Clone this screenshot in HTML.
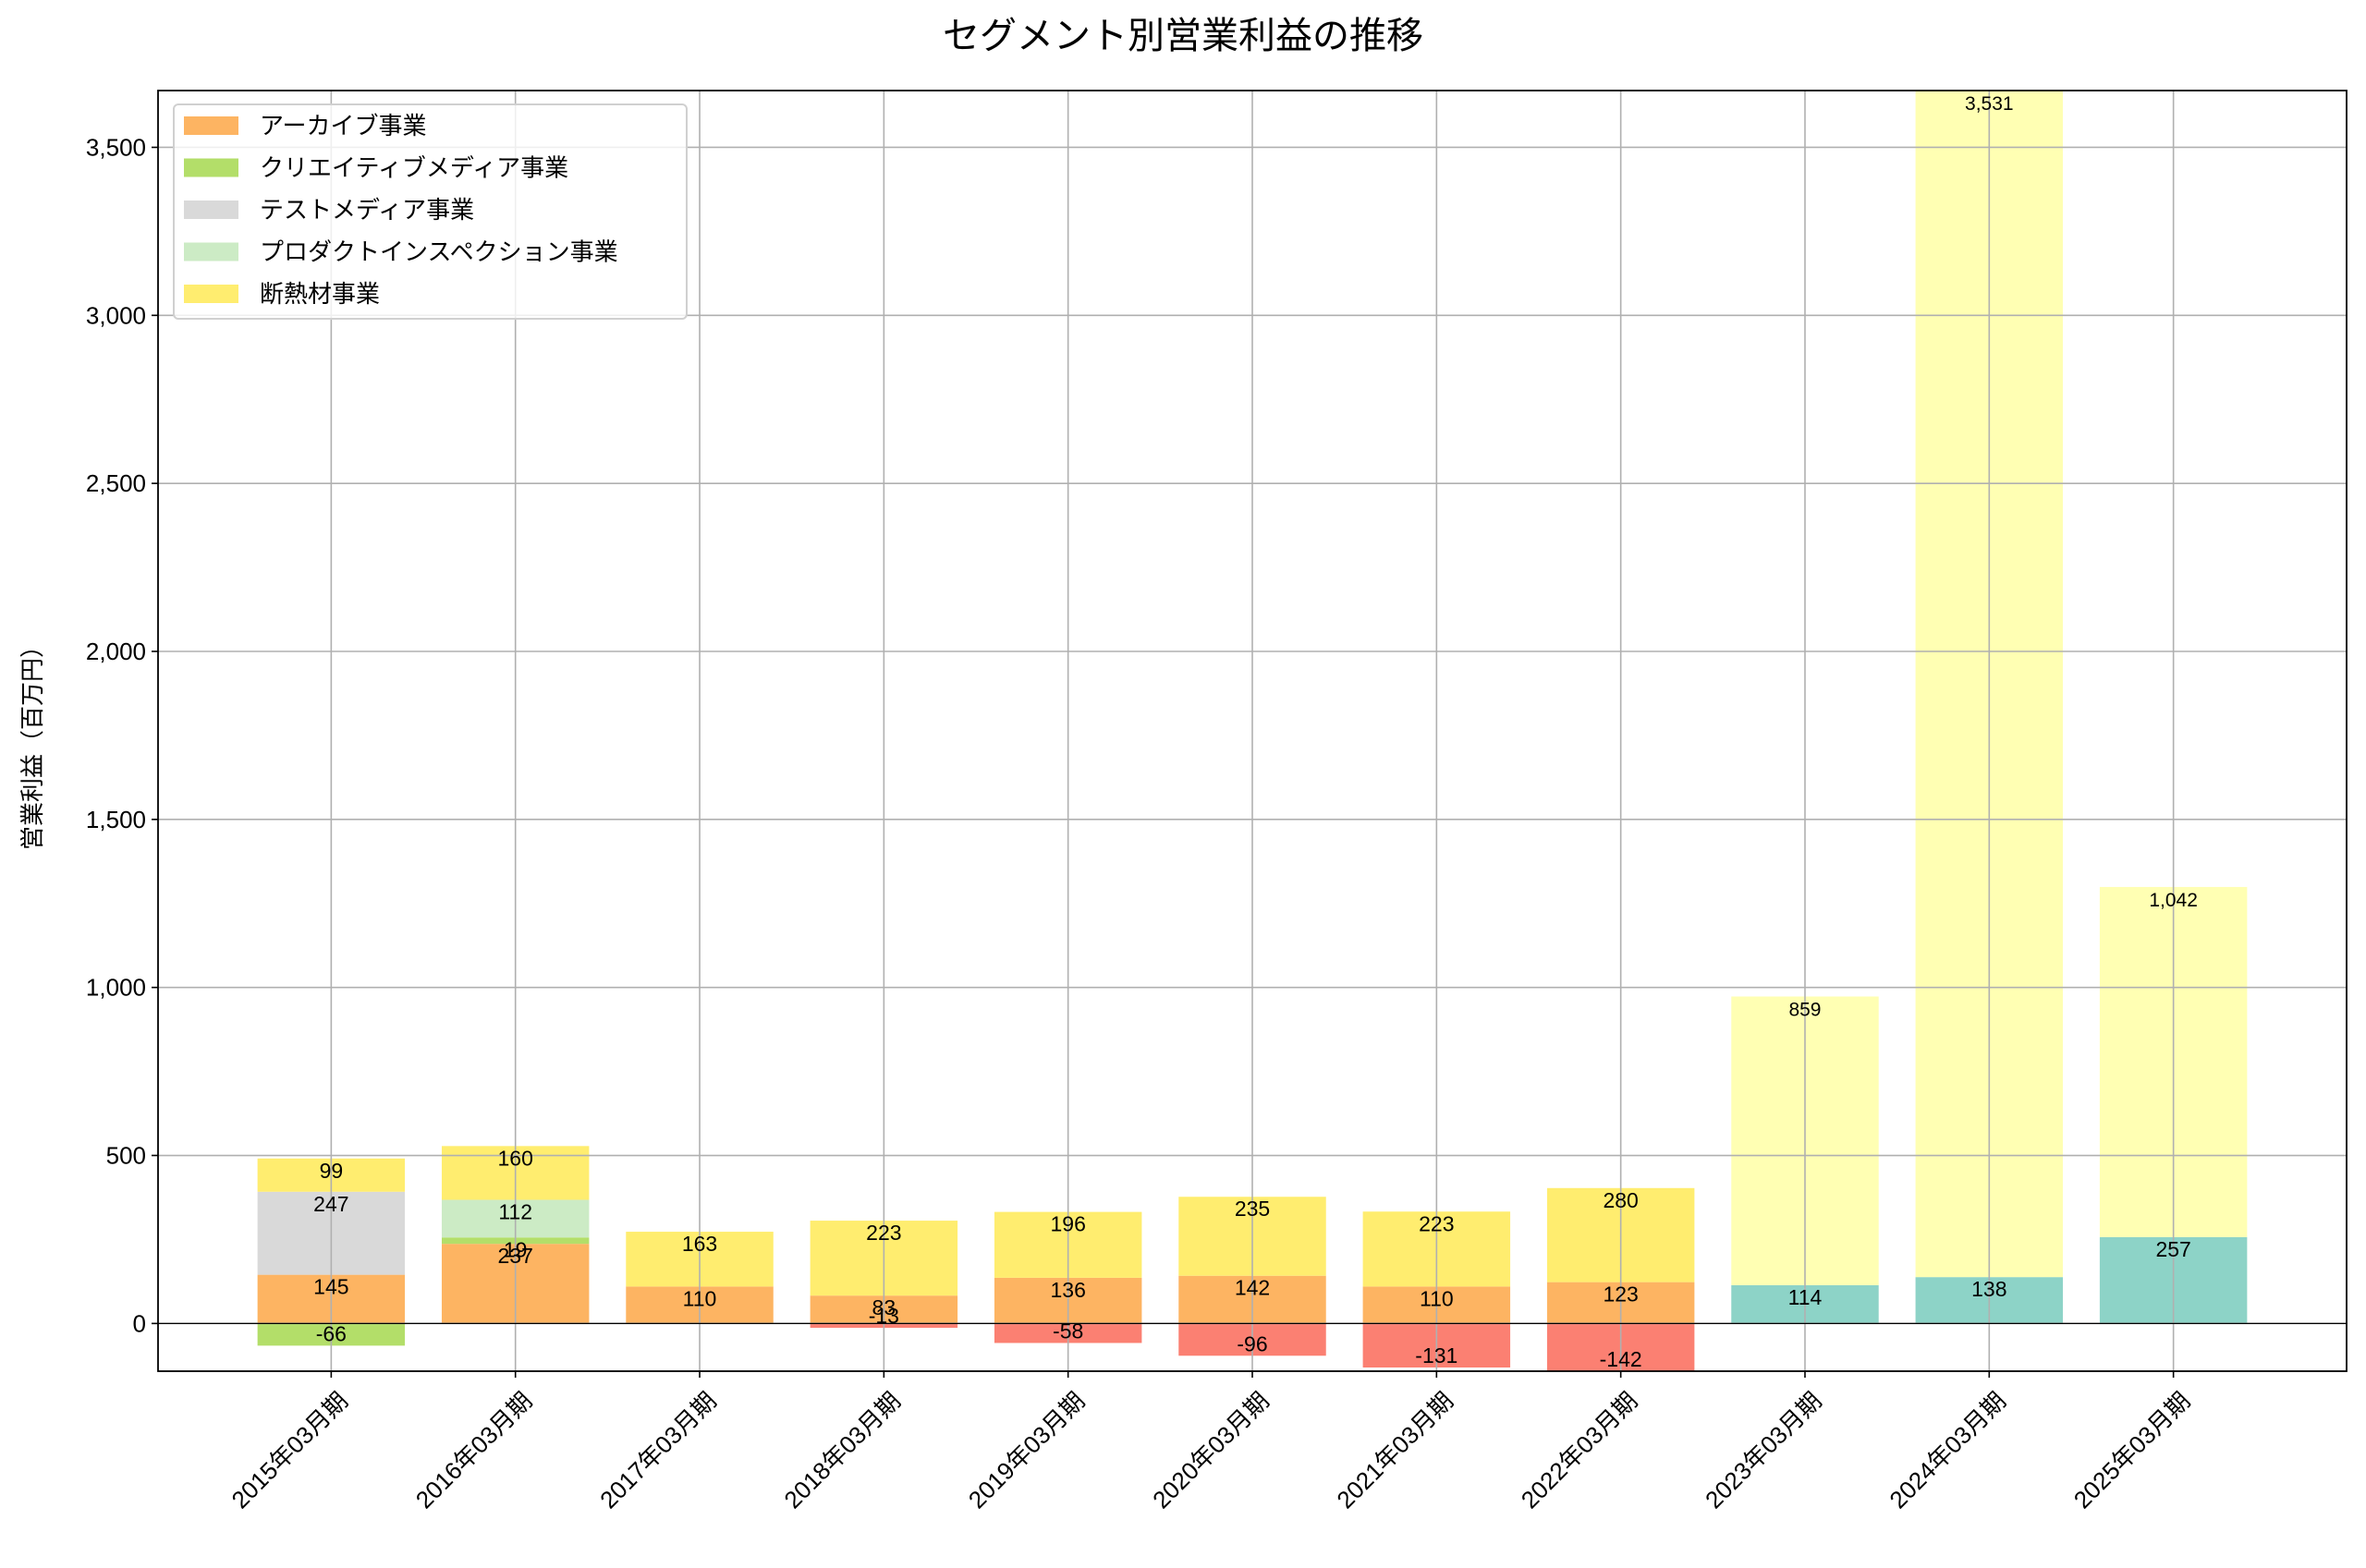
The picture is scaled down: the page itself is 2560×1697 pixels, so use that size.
<!DOCTYPE html>
<html><head><meta charset="utf-8">
<style>
html,body{margin:0;padding:0;background:#fff;}
svg{display:block;font-family:"Liberation Sans","Noto Sans CJK JP",sans-serif;}
</style></head>
<body>
<svg id="chart" width="2560" height="1697" viewBox="0 0 2560 1697" xmlns="http://www.w3.org/2000/svg">
<rect width="2560" height="1697" fill="#fff"/>
<text x="1280" y="52" font-size="40" text-anchor="middle" fill="#000">セグメント別営業利益の推移</text>
<text transform="translate(44,803) rotate(-90)" font-size="26" text-anchor="middle">営業利益（百万円）</text>
<g id="bars"></g>
<g id="grid"></g>
<g id="labels"></g>
<g id="axes"></g>
<g id="legend"></g>
</svg>
<script>
const categories = ["2015年03月期","2016年03月期","2017年03月期","2018年03月期","2019年03月期","2020年03月期","2021年03月期","2022年03月期","2023年03月期","2024年03月期","2025年03月期"];
const archive   = [145,237,110,83,136,142,110,123,0,0,0];
const creative  = [-66,19,0,0,0,0,0,0,0,0,0];
const testMedia = [247,0,0,0,0,0,0,0,0,0,0];
const inspection= [0,112,0,0,0,0,0,0,0,0,0];
const insulation= [99,160,163,223,196,235,223,280,0,0,0];
const negOther  = [0,0,0,-13,-58,-96,-131,-142,0,0,0];
const teal      = [0,0,0,0,0,0,0,0,114,138,257];
const lightYel  = [0,0,0,0,0,0,0,0,859,3531,1042];
const yTicks = [0,500,1000,1500,2000,2500,3000,3500];
const yTickLabels = ["0","500","1,000","1,500","2,000","2,500","3,000","3,500"];

const series = [
  {name:"archive", vals:archive, color:"#fdb462", legend:"アーカイブ事業"},
  {name:"creative-media", vals:creative, color:"#b3de69", legend:"クリエイティブメディア事業"},
  {name:"test-media", vals:testMedia, color:"#d9d9d9", legend:"テストメディア事業"},
  {name:"product-inspection", vals:inspection, color:"#ccebc5", legend:"プロダクトインスペクション事業"},
  {name:"insulation", vals:insulation, color:"#ffed6f", legend:"断熱材事業"},
  {name:"other-negative", vals:negOther, color:"#fb8072"},
  {name:"other-segment", vals:teal, color:"#8dd3c7"},
  {name:"other-large", vals:lightYel, color:"#ffffb3"}
];

const L=171,R=2539,T=98,B=1484;
const yMin=-142,yMax=3669;
const xMin=-0.94,xMax=categories.length-1+0.94;
const y=v=>B-(v-yMin)/(yMax-yMin)*(B-T);
const x=i=>L+(i-xMin)/(xMax-xMin)*(R-L);
const bw=0.8*(x(1)-x(0));
const NS="http://www.w3.org/2000/svg";
function mk(tag,attrs,parent){const e=document.createElementNS(NS,tag);for(const k in attrs)e.setAttribute(k,attrs[k]);parent.appendChild(e);return e;}
const gb=document.getElementById('bars'),gg=document.getElementById('grid'),gl=document.getElementById('labels'),ga=document.getElementById('axes'),gleg=document.getElementById('legend');
const fmt=v=>v.toLocaleString('en-US');

categories.forEach((c,i)=>{
  let pos=0,neg=0;
  series.forEach(s=>{
    const v=s.vals[i]; if(!v) return;
    let y0,y1;
    if(v>0){y0=pos;y1=pos+v;pos=y1;} else {y0=neg;y1=neg+v;neg=y1;}
    const top=Math.min(y(y0),y(y1)),h=Math.abs(y(y1)-y(y0));
    const r=mk('rect',{x:x(i)-bw/2,y:top,width:bw,height:h,fill:s.color},gb);
    
    
    const ly = v>0 ? y(y1)+13 : y(y1)-13;
    const t=mk('text',{x:x(i),y:ly+8,'font-size':(Math.abs(v)>=800?21:23),'text-anchor':'middle',fill:'#000'},gl);
    t.textContent=fmt(v);
    
    
  });
});

yTicks.forEach((v,k)=>{
  const ln=mk('line',{x1:L,x2:R,y1:y(v),y2:y(v),stroke:'#b0b0b0','stroke-width':1.6},gg);
  
  
  mk('line',{x1:L-7,x2:L,y1:y(v),y2:y(v),stroke:'#000','stroke-width':1.6},ga);
  const t=mk('text',{x:L-13,y:y(v)+9,'font-size':26,'text-anchor':'end'},ga);
  t.textContent=yTickLabels[k];
  
  
});
categories.forEach((c,i)=>{
  const ln=mk('line',{x1:x(i),x2:x(i),y1:T,y2:B,stroke:'#b0b0b0','stroke-width':1.6},gg);
  
  
  mk('line',{x1:x(i),x2:x(i),y1:B,y2:B+7,stroke:'#000','stroke-width':1.6},ga);
  const t=mk('text',{transform:`translate(${x(i)+6},${B+20}) rotate(-45)`,'font-size':26,'text-anchor':'end','dominant-baseline':'hanging'},ga);
  t.textContent=c;
  
  
});
const zl=mk('line',{x1:L,x2:R,y1:y(0),y2:y(0),stroke:'#000','stroke-width':1.3},ga);


const fr=mk('rect',{x:L,y:T,width:R-L,height:B-T,fill:'none',stroke:'#000','stroke-width':1.8},ga);



mk('rect',{x:188,y:113,width:555,height:232,rx:5,fill:'#fff','fill-opacity':0.8,stroke:'#d0d0d0','stroke-width':2},gleg);
series.filter(s=>s.legend).forEach((s,k)=>{
  const cy=136+k*45.5;
  const g=mk('g',{},gleg);
  
  
  mk('rect',{x:199,y:cy-10,width:59,height:20,fill:s.color},g);
  const t=mk('text',{x:281,y:cy+9,'font-size':26},g);
  t.textContent=s.legend;
});
</script>
</body></html>
